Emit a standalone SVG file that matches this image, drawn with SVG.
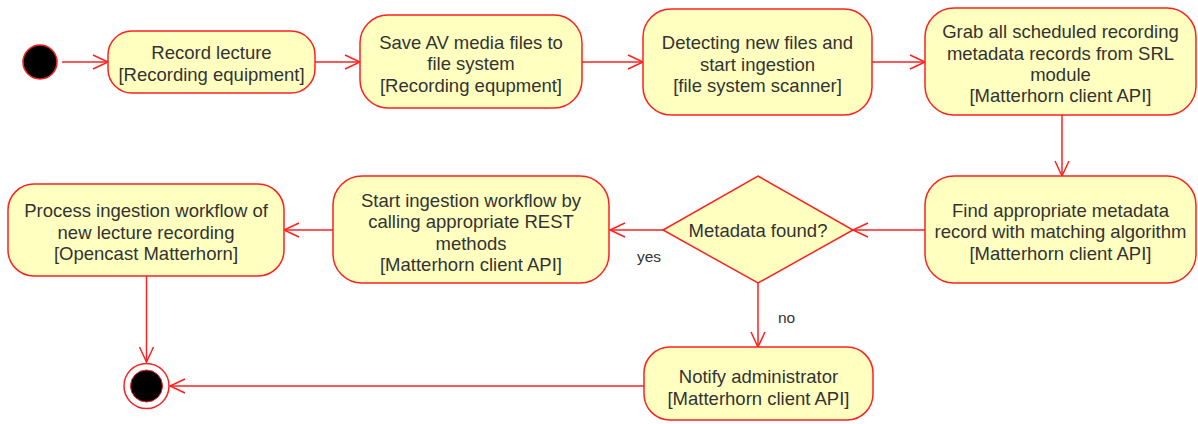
<svg xmlns="http://www.w3.org/2000/svg" width="1198" height="424" viewBox="0 0 1198 424">
<style>
.n{fill:#ffffc0;stroke:#ff2020;stroke-width:1.5}
.t{font-family:"Liberation Sans",Arial,sans-serif;font-size:18.5px;fill:#333;text-anchor:middle}
.l{font-family:"Liberation Sans",Arial,sans-serif;font-size:15.5px;fill:#333}
.c{fill:none;stroke:#ff2020;stroke-width:1.5}
</style>
<defs>
<marker id="a" markerUnits="userSpaceOnUse" markerWidth="18" markerHeight="18" viewBox="0 0 18 18" refX="16" refY="9" orient="auto">
<path d="M1,2 L16,9 L1,16" fill="none" stroke="#ff2020" stroke-width="1.5"/>
</marker>
</defs>
<rect width="1198" height="424" fill="#fff"/>
<g id="connectors">
<line class="c" x1="62" y1="62" x2="108" y2="62" marker-end="url(#a)"/>
<line class="c" x1="315" y1="62" x2="360" y2="62" marker-end="url(#a)"/>
<line class="c" x1="582" y1="62" x2="643" y2="62" marker-end="url(#a)"/>
<line class="c" x1="872" y1="62" x2="925" y2="62" marker-end="url(#a)"/>
<line class="c" x1="1062" y1="115" x2="1062" y2="176" marker-end="url(#a)"/>
<line class="c" x1="925" y1="230" x2="853" y2="230" marker-end="url(#a)"/>
<line class="c" x1="663" y1="230" x2="610" y2="230" marker-end="url(#a)"/>
<line class="c" x1="333" y1="230" x2="284" y2="230" marker-end="url(#a)"/>
<line class="c" x1="146.5" y1="276" x2="146.5" y2="362" marker-end="url(#a)"/>
<line class="c" x1="758" y1="283" x2="758" y2="347" marker-end="url(#a)"/>
<line class="c" x1="644" y1="386" x2="170" y2="386" marker-end="url(#a)"/>
<text class="l" x="637" y="262">yes</text>
<text class="l" x="778" y="323">no</text>
</g>
<g id="start">
<circle cx="40" cy="62" r="17" fill="#000" stroke="#ff2020" stroke-width="1.5"/>
</g>
<g id="n1">
<rect class="n" x="108" y="31" width="207" height="62" rx="24"/>
<text class="t" x="211.5" y="59.3">Record lecture</text>
<text class="t" x="211.5" y="81">[Recording equipment]</text>
</g>
<g id="n2">
<rect class="n" x="360" y="15" width="222" height="93" rx="28"/>
<text class="t" x="471" y="48.5">Save AV media files to</text>
<text class="t" x="471" y="70">file system</text>
<text class="t" x="471" y="91.5">[Recording equpment]</text>
</g>
<g id="n3">
<rect class="n" x="643" y="9" width="229" height="106" rx="28"/>
<text class="t" x="757.5" y="49">Detecting new files and</text>
<text class="t" x="757.5" y="70.5">start ingestion</text>
<text class="t" x="757.5" y="92">[file system scanner]</text>
</g>
<g id="n4">
<rect class="n" x="925" y="8" width="271" height="107" rx="29"/>
<text class="t" x="1060.5" y="38.3">Grab all scheduled recording</text>
<text class="t" x="1060.5" y="59.5">metadata records from SRL</text>
<text class="t" x="1060.5" y="80.7">module</text>
<text class="t" x="1060.5" y="101.9">[Matterhorn client API]</text>
</g>
<g id="n5">
<rect class="n" x="925" y="176" width="271" height="107" rx="29"/>
<text class="t" x="1060.5" y="216.7">Find appropriate metadata</text>
<text class="t" x="1060.5" y="238.3">record with matching algorithm</text>
<text class="t" x="1060.5" y="260">[Matterhorn client API]</text>
</g>
<g id="decision">
<polygon class="n" points="758,176 853,230 758,283 663,230"/>
<text class="t" x="758" y="237">Metadata found?</text>
</g>
<g id="n6">
<rect class="n" x="333" y="176" width="276" height="107" rx="29"/>
<text class="t" x="471" y="206.5">Start ingestion workflow by</text>
<text class="t" x="471" y="228">calling appropriate REST</text>
<text class="t" x="471" y="249.5">methods</text>
<text class="t" x="471" y="271">[Matterhorn client API]</text>
</g>
<g id="n7">
<rect class="n" x="8" y="184" width="276" height="92" rx="26"/>
<text class="t" x="146" y="217">Process ingestion workflow of</text>
<text class="t" x="146" y="238.5">new lecture recording</text>
<text class="t" x="146" y="260">[Opencast Matterhorn]</text>
</g>
<g id="n8">
<rect class="n" x="644" y="347" width="229" height="73" rx="26"/>
<text class="t" x="758.5" y="383.3">Notify administrator</text>
<text class="t" x="758.5" y="405">[Matterhorn client API]</text>
</g>
<g id="end">
<circle cx="146.5" cy="386" r="22.5" fill="#fff" stroke="#ff2020" stroke-width="1.5"/>
<circle cx="146.5" cy="386" r="16" fill="#000" stroke="#ff2020" stroke-width="1"/>
</g>
</svg>
